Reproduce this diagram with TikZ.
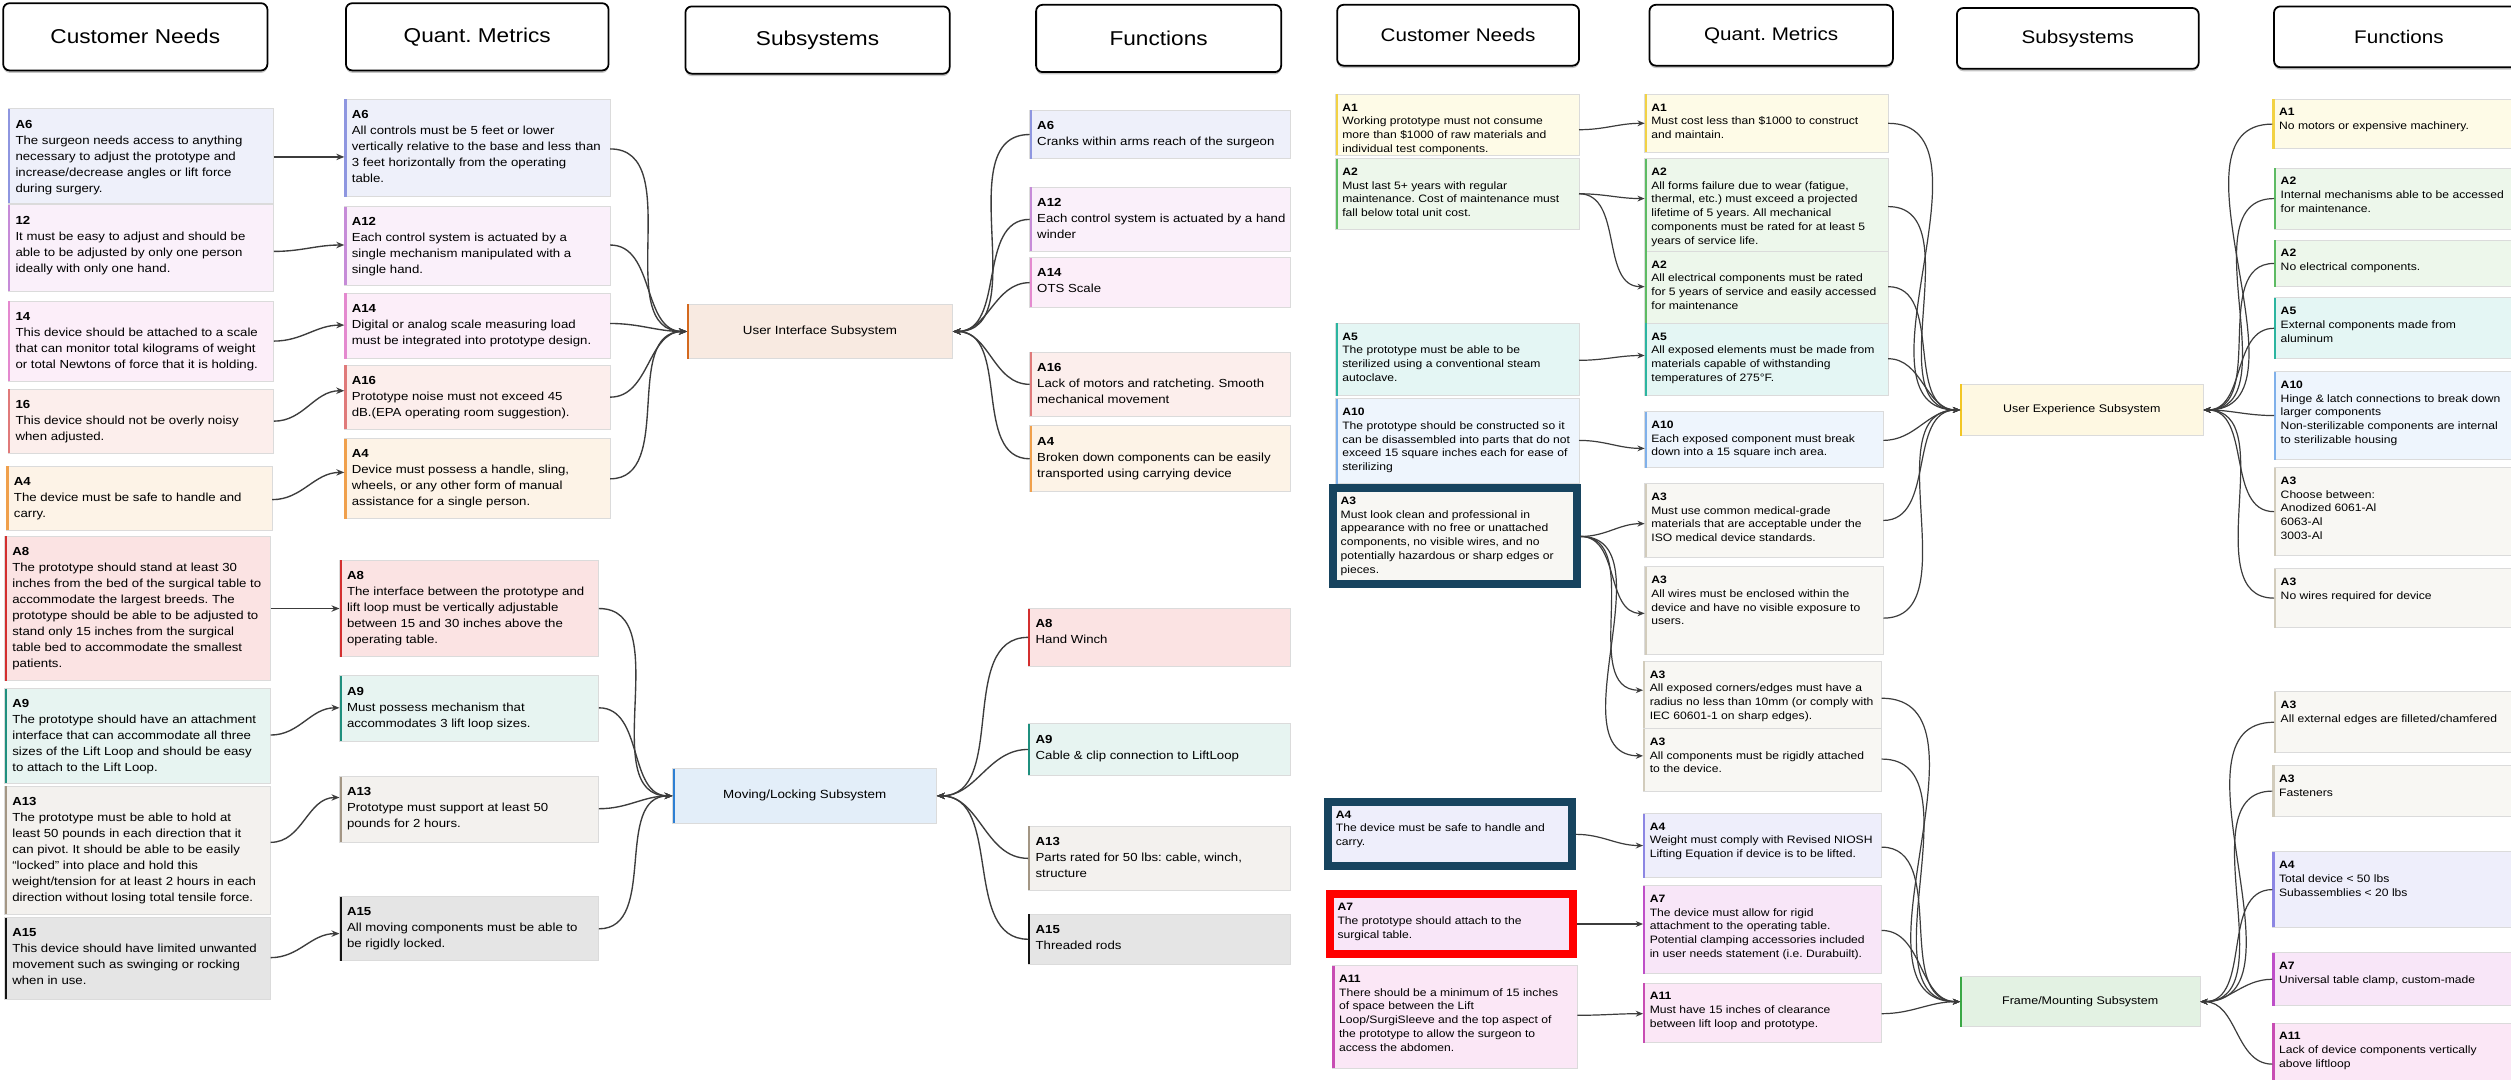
\documentclass[tikz,border=0pt]{standalone}
\usepackage{fontspec}
\setmainfont[FakeStretch=1.13]{Liberation Sans}
\usetikzlibrary{arrows.meta,shadows}
\frenchspacing

% palette
\definecolor{cLine}{HTML}{3C3C3C}
\definecolor{cLav}{HTML}{EEF0FA}\definecolor{bLav}{HTML}{8E96E0}
\definecolor{cLil}{HTML}{FAF0FA}\definecolor{bLil}{HTML}{C68BD8}
\definecolor{cPnk}{HTML}{FCEEF9}\definecolor{bPnk}{HTML}{E489CF}
\definecolor{cSal}{HTML}{FCEEEC}\definecolor{bSal}{HTML}{E07A7A}
\definecolor{cOra}{HTML}{FDF3E7}\definecolor{bOra}{HTML}{F0A04C}
\definecolor{cRed}{HTML}{FBE3E3}\definecolor{bRed}{HTML}{D32F2F}
\definecolor{cTea}{HTML}{E7F4F1}\definecolor{bTea}{HTML}{1F8F7E}
\definecolor{cTan}{HTML}{F3F1EE}\definecolor{bTan}{HTML}{A39684}
\definecolor{cGry}{HTML}{E5E5E5}\definecolor{bGry}{HTML}{141414}
\definecolor{cUI}{HTML}{F8EAE1}\definecolor{bUI}{HTML}{D4691E}
\definecolor{cML}{HTML}{E3EEF9}\definecolor{bML}{HTML}{2D7FD3}
\definecolor{cYel}{HTML}{FEFBE7}\definecolor{bYel}{HTML}{F2D244}
\definecolor{cGrn}{HTML}{EDF7EB}\definecolor{bGrn}{HTML}{5DBB63}
\definecolor{cTeR}{HTML}{E4F6F4}\definecolor{bTeR}{HTML}{2BB5A0}
\definecolor{cBlu}{HTML}{EEF5FD}\definecolor{bBlu}{HTML}{7FB0EA}
\definecolor{cBei}{HTML}{F8F7F3}\definecolor{bBei}{HTML}{D2CCBC}
\definecolor{cLv2}{HTML}{EEEEFB}\definecolor{bLv2}{HTML}{8C86E3}
\definecolor{cMag}{HTML}{F8E6F8}\definecolor{bMag}{HTML}{BE4FC8}
\definecolor{cPk2}{HTML}{FBE7F6}\definecolor{bPk2}{HTML}{C84DB3}
\definecolor{cUX}{HTML}{FEF8E2}\definecolor{bUX}{HTML}{F2C624}
\definecolor{cFM}{HTML}{E3F2E3}\definecolor{bFM}{HTML}{3AA845}
\definecolor{cNavy}{HTML}{17445F}
\definecolor{cMark}{HTML}{FF0000}

% type sizes
\newcommand\lfnt{\fontsize{7.3}{10}\selectfont}
\newcommand\rfnt{\fontsize{6.7}{8.6}\selectfont}
\newcommand\lsfnt{\fontsize{7.4}{9}\selectfont}
\newcommand\rsfnt{\fontsize{6.9}{8.5}\selectfont}
\newcommand\hdrl{\fontsize{12.5}{14}\selectfont}
\newcommand\hdrr{\fontsize{11.4}{13}\selectfont}

% note card: name, x1, y1, x2, y2 (y downwards), fill, accent bar, text style, text
\newcommand\notecard[9]{%
  \node[cardbox, fill=#6, anchor=north west,
        minimum width={(#4-#2)*1pt}, minimum height={(#5-#3)*1pt}] (#1) at (#2,-#3) {};
  \draw[line width=1.4pt, draw=#7] ([xshift=0.7pt]#1.north west) -- ([xshift=0.7pt]#1.south west);
  \node[#8, anchor=north west, inner sep=0pt, align=left] at (#1.north west) {#9};
}
% card with a heavy frame: name, x1, y1, x2, y2 (outer edge), fill, frame colour, text
\newcommand\markcard[8]{%
  \node[rectangle, draw=#7, line width=5pt, fill=#6, inner sep=0pt, outer sep=2.5pt,
        anchor=north west, minimum width={(#4-#2-5)*1pt}, minimum height={(#5-#3-5)*1pt}] (#1) at (#2,-#3) {};
  \node[font=\rfnt, anchor=north west, inner sep=0pt, align=left, xshift=7pt, yshift=-8pt] at (#1.north west) {#8};
}
% subsystem block: name, x1, y1, x2, y2, fill, accent bar, font, label
\newcommand\subsys[9]{%
  \node[subbox, fill=#6, anchor=north west, font=#8,
        minimum width={(#4-#2)*1pt}, minimum height={(#5-#3)*1pt}] (#1) at (#2,-#3) {#9};
  \draw[line width=1.4pt, draw=#7] ([xshift=0.7pt]#1.north west) -- ([xshift=0.7pt]#1.south west);
}

\begin{document}
\begin{tikzpicture}[x=1pt,y=1pt,
  cardbox/.style={rectangle, draw=black!14, line width=0.6pt, inner sep=0pt, outer sep=0pt},
  subbox/.style={rectangle, draw=black!14, line width=0.6pt, inner sep=0pt, outer sep=0pt, align=center},
  ltxt/.style={font=\lfnt, xshift=4.5pt, yshift=-6.7pt},
  rtxt/.style={font=\rfnt, xshift=4pt, yshift=-5.6pt},
  hdr/.style={rectangle, rounded corners=4pt, draw=black, line width=1.1pt, fill=white,
              drop shadow={shadow xshift=0pt, shadow yshift=-1.5pt, fill=black!45},
              inner sep=0pt, outer sep=0pt, anchor=north west},
  cn/.style={draw=cLine, line width=0.85pt, -{Stealth[length=5pt,width=4pt]}},
  cnr/.style={draw=cLine, line width=0.75pt, -{Stealth[length=4.5pt,width=3.6pt]}}]

\useasboundingbox (0,0) rectangle (1568,-674);
\clip (0,0) rectangle (1568,-674);
\fill[white] (0,0) rectangle (1568,-674);

% ---------------- column headings ----------------
\node[hdr, font=\hdrl, minimum width=165pt, minimum height=42pt] (lhCN) at (2,-2) {Customer Needs};
\node[hdr, font=\hdrl, minimum width=164pt, minimum height=42pt] (lhQM) at (216,-2) {Quant. Metrics};
\node[hdr, font=\hdrl, minimum width=165pt, minimum height=42pt] (lhSS) at (428,-4) {Subsystems};
\node[hdr, font=\hdrl, minimum width=153pt, minimum height=42pt] (lhFN) at (647,-3) {Functions};

\node[hdr, font=\hdrr, minimum width=151pt, minimum height=38pt] (rhCN) at (835,-3) {Customer Needs};
\node[hdr, font=\hdrr, minimum width=152pt, minimum height=38pt] (rhQM) at (1030,-3) {Quant. Metrics};
\node[hdr, font=\hdrr, minimum width=151pt, minimum height=38pt] (rhSS) at (1222,-5) {Subsystems};
\node[hdr, font=\hdrr, minimum width=156pt, minimum height=38pt] (rhFN) at (1420,-4) {Functions};

% ---------------- left sheet: customer needs ----------------
\notecard{lcnA6}{5}{68}{171}{127}{cLav}{bLav}{ltxt}{\textbf{A6}\\The surgeon needs access to anything\\necessary to adjust the prototype and\\increase/decrease angles or lift force\\during surgery.}
\notecard{lcn12}{5}{128}{171}{182}{cLil}{bLil}{ltxt}{\textbf{12}\\It must be easy to adjust and should be\\able to be adjusted by only one person\\ideally with only one hand.}
\notecard{lcn14}{5}{188}{171}{238}{cPnk}{bPnk}{ltxt}{\textbf{14}\\This device should be attached to a scale\\that can monitor total kilograms of weight\\or total Newtons of force that it is holding.}
\notecard{lcn16}{5}{243}{171}{283}{cSal}{bSal}{ltxt}{\textbf{16}\\This device should not be overly noisy\\when adjusted.}
\notecard{lcnA4}{4}{291}{170}{331}{cOra}{bOra}{ltxt}{\textbf{A4}\\The device must be safe to handle and\\carry.}
\notecard{lcnA8}{3}{335}{169}{425}{cRed}{bRed}{ltxt}{\textbf{A8}\\The prototype should stand at least 30\\inches from the bed of the surgical table to\\accommodate the largest breeds. The\\prototype should be able to be adjusted to\\stand only 15 inches from the surgical\\table bed to accommodate the smallest\\patients.}
\notecard{lcnA9}{3}{430}{169}{489}{cTea}{bTea}{ltxt}{\textbf{A9}\\The prototype should have an attachment\\interface that can accommodate all three\\sizes of the Lift Loop and should be easy\\to attach to the Lift Loop.}
\notecard{lcnA13}{3}{491}{169}{571}{cTan}{bTan}{ltxt}{\textbf{A13}\\The prototype must be able to hold at\\least 50 pounds in each direction that it\\can pivot. It should be able to be easily\\“locked” into place and hold this\\weight/tension for at least 2 hours in each\\direction without losing total tensile force.}
\notecard{lcnA15}{3}{573}{169}{624}{cGry}{bGry}{ltxt}{\textbf{A15}\\This device should have limited unwanted\\movement such as swinging or rocking\\when in use.}

% ---------------- left sheet: metrics ----------------
\notecard{lqmA6}{215}{62}{381}{123}{cLav}{bLav}{ltxt}{\textbf{A6}\\All controls must be 5 feet or lower\\vertically relative to the base and less than\\3 feet horizontally from the operating\\table.}
\notecard{lqmA12}{215}{129}{381}{178}{cLil}{bLil}{ltxt}{\textbf{A12}\\Each control system is actuated by a\\single mechanism manipulated with a\\single hand.}
\notecard{lqmA14}{215}{183}{381}{224}{cPnk}{bPnk}{ltxt}{\textbf{A14}\\Digital or analog scale measuring load\\must be integrated into prototype design.}
\notecard{lqmA16}{215}{228}{381}{268}{cSal}{bSal}{ltxt}{\textbf{A16}\\Prototype noise must not exceed 45\\dB.(EPA operating room suggestion).}
\notecard{lqmA4}{215}{274}{381}{324}{cOra}{bOra}{ltxt}{\textbf{A4}\\Device must possess a handle, sling,\\wheels, or any other form of manual\\assistance for a single person.}
\notecard{lqmA8}{212}{350}{374}{410}{cRed}{bRed}{ltxt}{\textbf{A8}\\The interface between the prototype and\\lift loop must be vertically adjustable\\between 15 and 30 inches above the\\operating table.}
\notecard{lqmA9}{212}{422}{374}{463}{cTea}{bTea}{ltxt}{\textbf{A9}\\Must possess mechanism that\\accommodates 3 lift loop sizes.}
\notecard{lqmA13}{212}{485}{374}{526}{cTan}{bTan}{ltxt}{\textbf{A13}\\Prototype must support at least 50\\pounds for 2 hours.}
\notecard{lqmA15}{212}{560}{374}{600}{cGry}{bGry}{ltxt}{\textbf{A15}\\All moving components must be able to\\be rigidly locked.}

% ---------------- left sheet: subsystems ----------------
\subsys{lssUI}{429}{190}{595}{224}{cUI}{bUI}{\lsfnt}{User Interface Subsystem}
\subsys{lssML}{420}{480}{585}{514}{cML}{bML}{\lsfnt}{Moving/Locking Subsystem}

% ---------------- left sheet: functions ----------------
\notecard{lfA6}{643}{69}{806}{99}{cLav}{bLav}{ltxt}{\textbf{A6}\\Cranks within arms reach of the surgeon}
\notecard{lfA12}{643}{117}{806}{157}{cLil}{bLil}{ltxt}{\textbf{A12}\\Each control system is actuated by a hand\\winder}
\notecard{lfA14}{643}{161}{806}{192}{cPnk}{bPnk}{ltxt}{\textbf{A14}\\OTS Scale}
\notecard{lfA16}{643}{220}{806}{260}{cSal}{bSal}{ltxt}{\textbf{A16}\\Lack of motors and ratcheting. Smooth\\mechanical movement}
\notecard{lfA4}{643}{266}{806}{307}{cOra}{bOra}{ltxt}{\textbf{A4}\\Broken down components can be easily\\transported using carrying device}
\notecard{lfA8}{642}{380}{806}{416}{cRed}{bRed}{ltxt}{\textbf{A8}\\Hand Winch}
\notecard{lfA9}{642}{452}{806}{484}{cTea}{bTea}{ltxt}{\textbf{A9}\\Cable \& clip connection to LiftLoop}
\notecard{lfA13}{642}{516}{806}{556}{cTan}{bTan}{ltxt}{\textbf{A13}\\Parts rated for 50 lbs: cable, winch,\\structure}
\notecard{lfA15}{642}{571}{806}{602}{cGry}{bGry}{ltxt}{\textbf{A15}\\Threaded rods}

% ---------------- left sheet: connectors ----------------
\draw[cn] (lcnA6.east |- 0,-98)  to[out=0,in=180] (lqmA6.west |- 0,-98);
\draw[cn] (lcn12.east |- 0,-157) to[out=0,in=180] (lqmA12.west |- 0,-153);
\draw[cn] (lcn14.east |- 0,-213) to[out=0,in=180] (lqmA14.west |- 0,-203);
\draw[cn] (lcn16.east |- 0,-263) to[out=0,in=180] (lqmA16.west |- 0,-244);
\draw[cn] (lcnA4.east |- 0,-312) to[out=0,in=180] (lqmA4.west |- 0,-295);
\draw[cn] (lcnA8.east |- 0,-380) to[out=0,in=180] (lqmA8.west |- 0,-380);
\draw[cn] (lcnA9.east |- 0,-459) to[out=0,in=180] (lqmA9.west |- 0,-442);
\draw[cn] (lcnA13.east |- 0,-526) to[out=0,in=180] (lqmA13.west |- 0,-498);
\draw[cn] (lcnA15.east |- 0,-598) to[out=0,in=180] (lqmA15.west |- 0,-583);

\foreach \n/\y in {lqmA6/93, lqmA12/153, lqmA14/202, lqmA16/248, lqmA4/299}
  \draw[cn] (\n.east |- 0,-\y) to[out=0,in=180] (lssUI.west);
\foreach \n/\y in {lqmA8/380, lqmA9/442, lqmA13/505, lqmA15/580}
  \draw[cn] (\n.east |- 0,-\y) to[out=0,in=180] (lssML.west);

\foreach \n in {lfA6, lfA12, lfA14, lfA16, lfA4}
  \draw[cn] (\n.west) to[out=180,in=0] (lssUI.east);
\foreach \n in {lfA8, lfA9, lfA13, lfA15}
  \draw[cn] (\n.west) to[out=180,in=0] (lssML.east);

% ---------------- right sheet: customer needs ----------------
\notecard{rcnA1}{834}{59}{986}{97}{cYel}{bYel}{rtxt}{\textbf{A1}\\Working prototype must not consume\\more than \$1000 of raw materials and\\individual test components.}
\notecard{rcnA2}{834}{99}{986}{143}{cGrn}{bGrn}{rtxt}{\textbf{A2}\\Must last 5+ years with regular\\maintenance. Cost of maintenance must\\fall below total unit cost.}
\notecard{rcnA5}{834}{202}{986}{247}{cTeR}{bTeR}{rtxt}{\textbf{A5}\\The prototype must be able to be\\sterilized using a conventional steam\\autoclave.}
\notecard{rcnA10}{834}{249}{986}{302}{cBlu}{bBlu}{rtxt}{\textbf{A10}\\The prototype should be constructed so it\\can be disassembled into parts that do not\\exceed 15 square inches each for ease of\\sterilizing}
\markcard{rcnA3}{830}{302}{987}{367}{cBei}{cNavy}{\textbf{A3}\\Must look clean and professional in\\appearance with no free or unattached\\components, no visible wires, and no\\potentially hazardous or sharp edges or\\pieces.}
\markcard{rcnA4}{827}{498}{984}{543}{cLv2}{cNavy}{\textbf{A4}\\The device must be safe to handle and\\carry.}
\markcard{rcnA7}{828}{556}{985}{598}{cMag}{cMark}{\textbf{A7}\\The prototype should attach to the\\surgical table.}
\notecard{rcnA11}{832}{603}{985}{667}{cPk2}{bPk2}{rtxt}{\textbf{A11}\\There should be a minimum of 15 inches\\of space between the Lift\\Loop/SurgiSleeve and the top aspect of\\the prototype to allow the surgeon to\\access the abdomen.}

% ---------------- right sheet: metrics ----------------
\notecard{rqmA1}{1027}{59}{1179}{95}{cYel}{bYel}{rtxt}{\textbf{A1}\\Must cost less than \$1000 to construct\\and maintain.}
\notecard{rqmA2a}{1027}{99}{1179}{157}{cGrn}{bGrn}{rtxt}{\textbf{A2}\\All forms failure due to wear (fatigue,\\thermal, etc.) must exceed a projected\\lifetime of 5 years. All mechanical\\components must be rated for at least 5\\years of service life.}
\notecard{rqmA2b}{1027}{157}{1179}{202}{cGrn}{bGrn}{rtxt}{\textbf{A2}\\All electrical components must be rated\\for 5 years of service and easily accessed\\for maintenance}
\notecard{rqmA5}{1027}{202}{1179}{247}{cTeR}{bTeR}{rtxt}{\textbf{A5}\\All exposed elements must be made from\\materials capable of withstanding\\temperatures of 275°F.}
\notecard{rqmA10}{1027}{257}{1176}{292}{cBlu}{bBlu}{rtxt}{\textbf{A10}\\Each exposed component must break\\down into a 15 square inch area.}
\notecard{rqmA3a}{1027}{302}{1176}{348}{cBei}{bBei}{rtxt}{\textbf{A3}\\Must use common medical-grade\\materials that are acceptable under the\\ISO medical device standards.}
\notecard{rqmA3b}{1027}{354}{1176}{409}{cBei}{bBei}{rtxt}{\textbf{A3}\\All wires must be enclosed within the\\device and have no visible exposure to\\users.}
\notecard{rqmA3c}{1026}{413}{1175}{455}{cBei}{bBei}{rtxt}{\textbf{A3}\\All exposed corners/edges must have a\\radius no less than 10mm (or comply with\\IEC 60601-1 on sharp edges).}
\notecard{rqmA3d}{1026}{455}{1175}{494}{cBei}{bBei}{rtxt}{\textbf{A3}\\All components must be rigidly attached\\to the device.}
\notecard{rqmA4}{1026}{508}{1175}{548}{cLv2}{bLv2}{rtxt}{\textbf{A4}\\Weight must comply with Revised NIOSH\\Lifting Equation if device is to be lifted.}
\notecard{rqmA7}{1026}{553}{1175}{608}{cMag}{bMag}{rtxt}{\textbf{A7}\\The device must allow for rigid\\attachment to the operating table.\\Potential clamping accessories included\\in user needs statement (i.e. Durabuilt).}
\notecard{rqmA11}{1026}{614}{1175}{651}{cPk2}{bPk2}{rtxt}{\textbf{A11}\\Must have 15 inches of clearance\\between lift loop and prototype.}

% ---------------- right sheet: subsystems ----------------
\subsys{rssUX}{1224}{240}{1376}{272}{cUX}{bUX}{\rsfnt}{User Experience Subsystem}
\subsys{rssFM}{1224}{610}{1374}{641}{cFM}{bFM}{\rsfnt}{Frame/Mounting Subsystem}

% ---------------- right sheet: functions ----------------
\notecard{rfA1}{1419}{62}{1585}{93}{cYel}{bYel}{rtxt}{\textbf{A1}\\No motors or expensive machinery.}
\notecard{rfA2a}{1420}{105}{1585}{143}{cGrn}{bGrn}{rtxt}{\textbf{A2}\\Internal mechanisms able to be accessed\\for maintenance.}
\notecard{rfA2b}{1420}{150}{1585}{179}{cGrn}{bGrn}{rtxt}{\textbf{A2}\\No electrical components.}
\notecard{rfA5}{1420}{186}{1585}{224}{cTeR}{bTeR}{rtxt}{\textbf{A5}\\External components made from\\aluminum}
\notecard{rfA10}{1420}{232}{1585}{287}{cBlu}{bBlu}{rtxt}{\textbf{A10}\\Hinge \& latch connections to break down\\larger components\\Non-sterilizable components are internal\\to sterilizable housing}
\notecard{rfA3a}{1420}{292}{1585}{347}{cBei}{bBei}{rtxt}{\textbf{A3}\\Choose between:\\Anodized 6061-Al\\6063-Al\\3003-Al}
\notecard{rfA3b}{1420}{355}{1585}{392}{cBei}{bBei}{rtxt}{\textbf{A3}\\No wires required for device}
\notecard{rfA3c}{1420}{432}{1585}{470}{cBei}{bBei}{rtxt}{\textbf{A3}\\All external edges are filleted/chamfered}
\notecard{rfA3d}{1419}{478}{1585}{510}{cBei}{bBei}{rtxt}{\textbf{A3}\\Fasteners}
\notecard{rfA4}{1419}{532}{1585}{579}{cLv2}{bLv2}{rtxt}{\textbf{A4}\\Total device < 50 lbs\\Subassemblies < 20 lbs}
\notecard{rfA7}{1419}{595}{1585}{628}{cMag}{bMag}{rtxt}{\textbf{A7}\\Universal table clamp, custom-made}
\notecard{rfA11}{1419}{639}{1585}{690}{cPk2}{bPk2}{rtxt}{\textbf{A11}\\Lack of device components vertically\\above liftloop}

% ---------------- right sheet: connectors ----------------
\draw[cnr] (rcnA1.east |- 0,-81)   to[out=0,in=180] (rqmA1.west |- 0,-77);
\draw[cnr] (rcnA2.east |- 0,-121)  to[out=0,in=180] (rqmA2a.west |- 0,-124);
\draw[cnr] (rcnA2.east |- 0,-121)  to[out=0,in=180] (rqmA2b.west |- 0,-179);
\draw[cnr] (rcnA5.east |- 0,-225)  to[out=0,in=180] (rqmA5.west |- 0,-222);
\draw[cnr] (rcnA10.east |- 0,-275) to[out=0,in=180] (rqmA10.west |- 0,-280);
\draw[cnr] (rcnA3.east |- 0,-335)  to[out=0,in=180] (rqmA3a.west |- 0,-327);
\draw[cnr] (rcnA3.east |- 0,-335)  to[out=0,in=180] (rqmA3b.west |- 0,-383);
\draw[cnr] (rcnA3.east |- 0,-335)  to[out=0,in=180] (rqmA3c.west |- 0,-431);
\draw[cnr] (rcnA3.east |- 0,-335)  to[out=0,in=180] (rqmA3d.west |- 0,-472);
\draw[cnr] (rcnA4.east |- 0,-521)  to[out=0,in=180] (rqmA4.west |- 0,-528);
\draw[cnr] (rcnA7.east |- 0,-577)  to[out=0,in=180] (rqmA7.west |- 0,-577);
\draw[cnr] (rcnA11.east |- 0,-634) to[out=0,in=180] (rqmA11.west |- 0,-633);

\foreach \n/\y in {rqmA1/77, rqmA2a/129, rqmA2b/179, rqmA5/224, rqmA10/275, rqmA3a/325, rqmA3b/386}
  \draw[cnr] (\n.east |- 0,-\y) to[out=0,in=180] (rssUX.west);
\foreach \n/\y in {rqmA3c/436, rqmA3d/474, rqmA4/529, rqmA7/581, rqmA11/633}
  \draw[cnr] (\n.east |- 0,-\y) to[out=0,in=180] (rssFM.west);

\foreach \n in {rfA1, rfA2a, rfA2b, rfA5, rfA10, rfA3a, rfA3b}
  \draw[cnr] (\n.west) to[out=180,in=0] (rssUX.east);
\foreach \n in {rfA3c, rfA3d, rfA4, rfA7, rfA11}
  \draw[cnr] (\n.west) to[out=180,in=0] (rssFM.east);

\end{tikzpicture}
\end{document}
